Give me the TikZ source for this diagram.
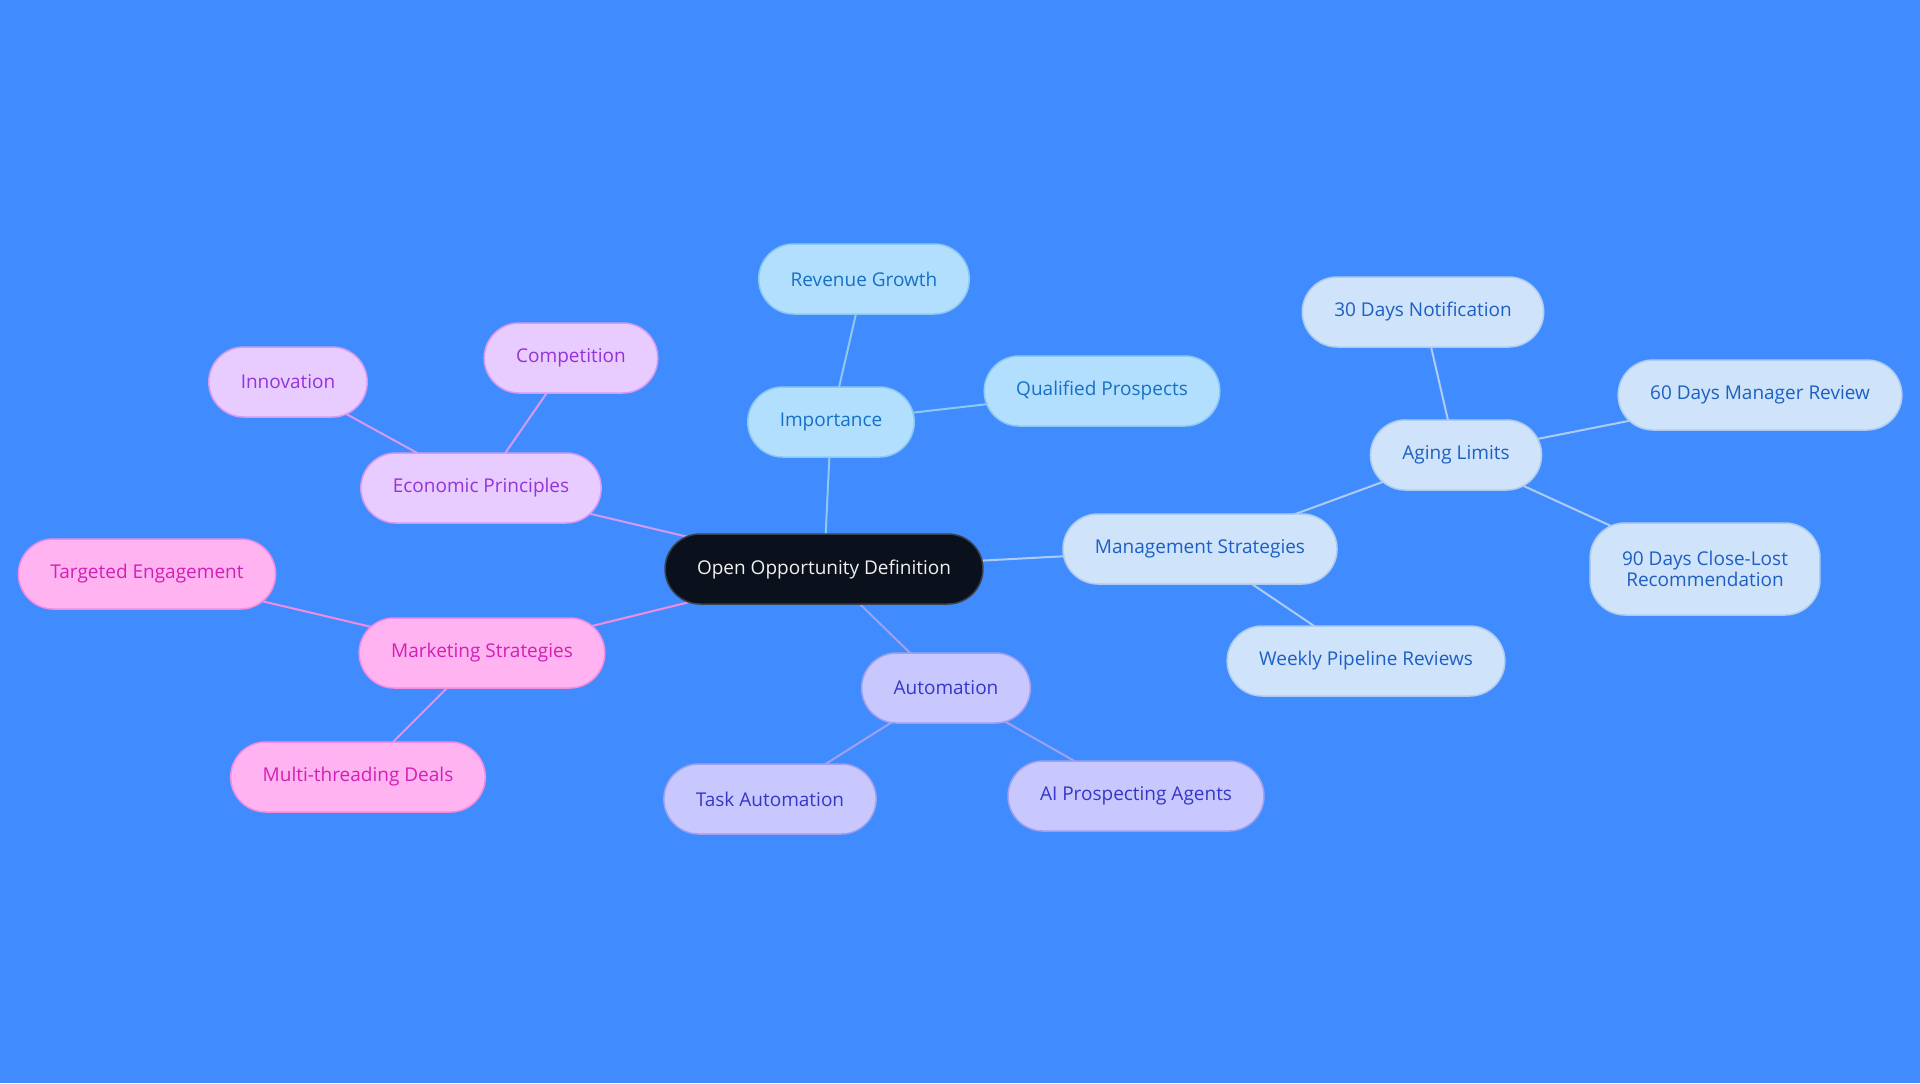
\documentclass[tikz,border=0pt]{standalone}
\usepackage{fontspec}
\setmainfont{Open Sans}
\usetikzlibrary{backgrounds}
\definecolor{bg}{HTML}{408CFF}
\definecolor{rootfill}{HTML}{0B111C}
\definecolor{rootline}{HTML}{3A4250}
\definecolor{impfill}{HTML}{B3DFFF}
\definecolor{impline}{HTML}{8CC8F0}
\definecolor{imptext}{HTML}{1670C4}
\definecolor{mgtfill}{HTML}{CFE3FA}
\definecolor{mgtline}{HTML}{AFCCF0}
\definecolor{mgttext}{HTML}{1D5FC4}
\definecolor{autfill}{HTML}{C8C8FF}
\definecolor{autline}{HTML}{A0A0F0}
\definecolor{auttext}{HTML}{3636C8}
\definecolor{ecofill}{HTML}{E8CCFF}
\definecolor{ecoline}{HTML}{D49AF5}
\definecolor{ecotext}{HTML}{9333D9}
\definecolor{mktfill}{HTML}{FFB3F0}
\definecolor{mktline}{HTML}{F28CE0}
\definecolor{mkttext}{HTML}{D41FB4}
\begin{document}
\begin{tikzpicture}[x=.5pt,y=-.5pt,
  box/.style={rounded corners=17.5pt,minimum height=35pt,inner xsep=16pt,line width=.75pt,align=center,font=\fontsize{9.5}{10.5}\selectfont},
  root/.style={box,fill=rootfill,draw=rootline,text=white!94!black},
  imp/.style={box,fill=impfill,draw=impline,text=imptext},
  mgt/.style={box,fill=mgtfill,draw=mgtline,text=mgttext},
  aut/.style={box,fill=autfill,draw=autline,text=auttext},
  eco/.style={box,fill=ecofill,draw=ecoline,text=ecotext},
  mkt/.style={box,fill=mktfill,draw=mktline,text=mkttext},
  link/.style={line width=1pt}]
\useasboundingbox (0,0) rectangle (1920,1083);
% centre
\node[root] (ood) at (824,569) {Open Opportunity Definition};
% importance
\node[imp] (imp) at (831,422) {Importance};
\node[imp] (rev) at (864,279) {Revenue Growth};
\node[imp] (qual) at (1102,391) {Qualified Prospects};
% economic principles
\node[eco] (eco) at (481,488) {Economic Principles};
\node[eco] (inno) at (288,382) {Innovation};
\node[eco] (comp) at (571,358) {Competition};
% marketing strategies
\node[mkt] (mkt) at (482,653) {Marketing Strategies};
\node[mkt] (targ) at (147,574) {Targeted Engagement};
\node[mkt] (multi) at (358,777) {Multi-threading Deals};
% automation
\node[aut] (aut) at (946,688) {Automation};
\node[aut] (task) at (770,799) {Task Automation};
\node[aut] (ai) at (1136,796) {AI Prospecting Agents};
% management strategies
\node[mgt] (mgt) at (1200,549) {Management Strategies};
\node[mgt] (week) at (1366,661) {Weekly Pipeline Reviews};
\node[mgt] (aging) at (1456,455) {Aging Limits};
\node[mgt] (d30) at (1423,312) {30 Days Notification};
\node[mgt] (d60) at (1760,395) {60 Days Manager Review};
\node[mgt,minimum height=46pt] (d90) at (1705,569) {90 Days Close-Lost\\Recommendation};
\begin{scope}[on background layer]
\fill[bg] (0,0) rectangle (1920,1083);
\draw[link,impline] (ood.center)--(imp.center)--(rev.center) (imp.center)--(qual.center);
\draw[link,ecoline] (ood.center)--(eco.center)--(inno.center) (eco.center)--(comp.center);
\draw[link,mktline] (ood.center)--(mkt.center)--(targ.center) (mkt.center)--(multi.center);
\draw[link,autline] (ood.center)--(aut.center)--(task.center) (aut.center)--(ai.center);
\draw[link,mgtline] (ood.center)--(mgt.center)--(week.center) (mgt.center)--(aging.center)--(d30.center)
	(aging.center)--(d60.center) (aging.center)--(d90.center);
\end{scope}
\end{tikzpicture}
\end{document}
